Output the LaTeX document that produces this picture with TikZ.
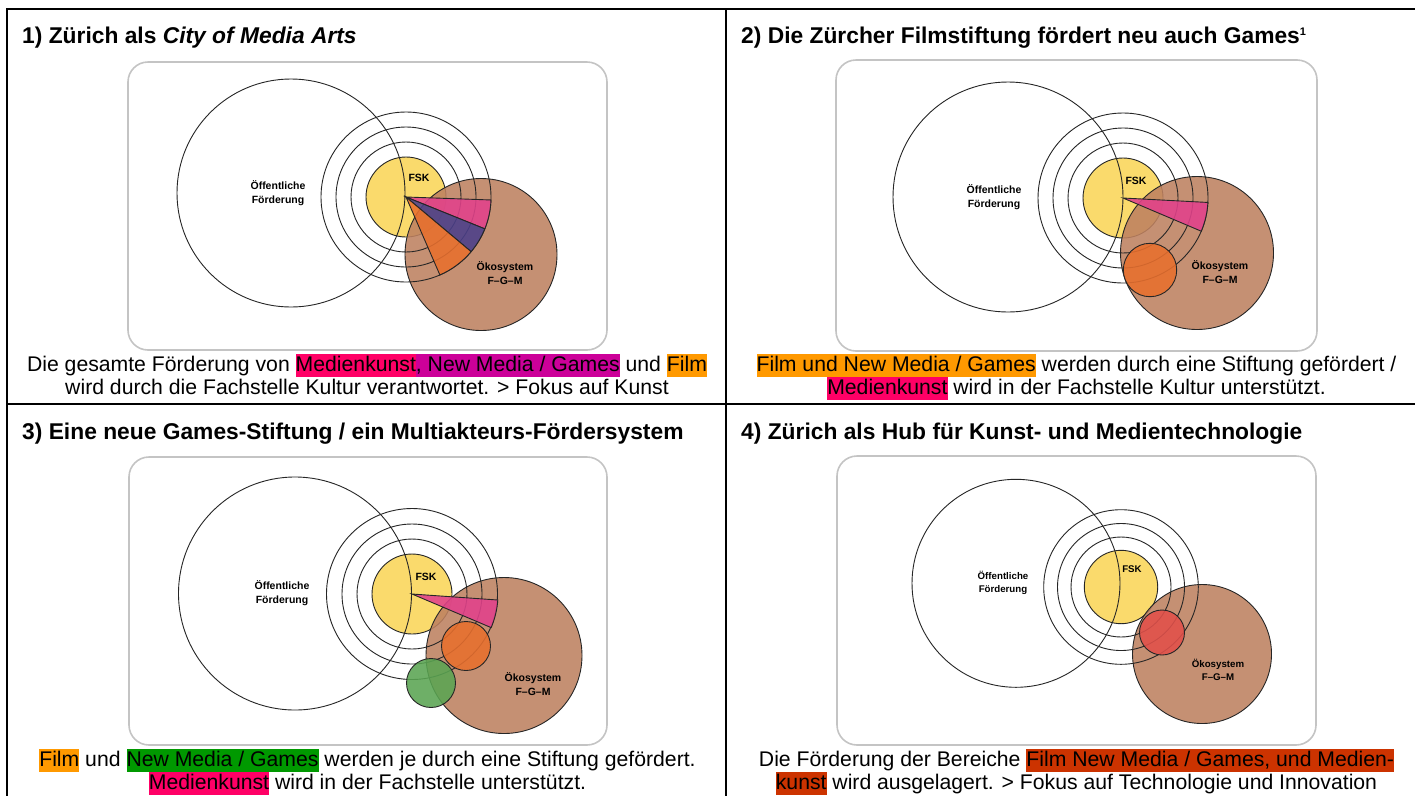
\documentclass[tikz,border=0pt]{standalone}
\usepackage{fontspec}
\setmainfont{Liberation Sans}

% highlight colours of the captions
\definecolor{hlpink}{HTML}{FF0066}
\definecolor{hlmagenta}{HTML}{CC0099}
\definecolor{hlorange}{HTML}{FF9900}
\definecolor{hlgreen}{HTML}{009900}
\definecolor{hlrust}{HTML}{CC3300}
% diagram colours
\definecolor{panelgray}{HTML}{C4C4C4}
\definecolor{fskyellow}{HTML}{FADA6C}
\definecolor{ecobrown}{HTML}{BE8160}
\definecolor{wedgepink}{HTML}{E2418B}
\definecolor{wedgeviolet}{HTML}{4B3F8A}
\definecolor{areaorange}{HTML}{E86F2D}
\definecolor{areagreen}{HTML}{5AA552}
\definecolor{areared}{HTML}{E2504A}

\newcommand\lnstrut{\rule[-5.5pt]{0pt}{23pt}}
\newcommand\hl[2]{{\setlength{\fboxsep}{0pt}\colorbox{#1}{\lnstrut#2}}}
\newcommand\footmark[1]{\raisebox{8pt}{\fontsize{11}{11}\selectfont #1}}

\tikzset{
  frameline/.style={draw=black, line width=2.4pt},
  panelbox/.style={draw=panelgray, line width=1.6pt, rounded corners=20pt},
  outline/.style={draw=black!85, line width=0.9pt},
  fsk/.style={outline, fill=fskyellow},
  eco/.style={outline, fill=ecobrown, fill opacity=0.88},
  piece/.style={outline, fill opacity=0.88},
  lbl/.style={font=\fontsize{10.5}{13.3}\selectfont\bfseries, align=center, inner sep=0pt},
  lblsmall/.style={font=\fontsize{9.7}{12.3}\selectfont\bfseries, align=center, inner sep=0pt},
  heading/.style={anchor=base west, font=\fontsize{22.8}{26}\selectfont\bfseries, inner sep=0pt},
  caption/.style={align=center, inner sep=0pt, font=\fontsize{21.2}{23}\selectfont},
}

\begin{document}
\begin{tikzpicture}[x=1pt, y=-1pt]
\useasboundingbox (0,0) rectangle (1415,796);
\fill[white] (0,0) rectangle (1415,796);

% ---------- table grid ----------
\draw[frameline] (1415,9) -- (7,9) -- (7,796);
\draw[frameline] (726,9) -- (726,796);
\draw[frameline] (7,404) -- (1415,404);

% ---------- headings ----------
\node[heading] (h1) at (22,43) {1) Zürich als \textit{City of Media Arts}};
\node[heading] (h2) at (741,43) {2) Die Zürcher Filmstiftung fördert neu auch Games\footmark{1}};
\node[heading] (h3) at (22,439) {3) Eine neue Games-Stiftung / ein Multiakteurs-Fördersystem};
\node[heading] (h4) at (741,439) {4) Zürich als Hub für Kunst- und Medientechnologie};

% ---------- panel 1 ----------
\draw[panelbox] (128,62) rectangle (607,350);
\path[fsk] (406,197) circle[radius=40];
\path[eco] (481,254.5) circle[radius=76];
\draw[outline] (291,193) circle[radius=114];
\foreach \r in {55,70,85} \draw[outline] (406,197) circle[radius=\r];
\path[piece, fill=wedgepink] (406,197) -- ++(2:85) arc[start angle=2, end angle=22, radius=85] -- cycle;
\path[piece, fill=wedgeviolet] (406,197) -- ++(22:85) arc[start angle=22, end angle=40, radius=85] -- cycle;
\path[piece, fill=areaorange] (406,197) -- ++(40:85) arc[start angle=40, end angle=66.5, radius=85] -- cycle;
\node[lbl] (oef1) at (278,193) {Öffentliche\\Förderung};
\node[lbl] (fsk1) at (419,178) {FSK};
\node[lbl] (eco1) at (505,273) {Ökosystem\\F–G–M};

% ---------- panel 2 ----------
\draw[panelbox] (836,60) rectangle (1317,351);
\path[fsk] (1123,198) circle[radius=40];
\path[eco] (1197,253) circle[radius=76.5];
\draw[outline] (1008,197) circle[radius=115];
\foreach \r in {55,70,85} \draw[outline] (1123,198) circle[radius=\r];
\path[piece, fill=wedgepink] (1123,198) -- ++(3:85) arc[start angle=3, end angle=23, radius=85] -- cycle;
\path[piece, fill=areaorange] (1150,270) circle[radius=26.7];
\node[lbl] (oef2) at (994,197) {Öffentliche\\Förderung};
\node[lbl] (fsk2) at (1136,181) {FSK};
\node[lbl] (eco2) at (1220,272) {Ökosystem\\F–G–M};

% ---------- panel 3 ----------
\draw[panelbox] (129,457) rectangle (607,745);
\path[fsk] (412,594) circle[radius=40];
\path[eco] (504,655.5) circle[radius=78];
\draw[outline] (295,593.5) circle[radius=116.5];
\foreach \r in {55,70,85.5} \draw[outline] (412,594) circle[radius=\r];
\path[piece, fill=wedgepink] (412,594) -- ++(4:86) arc[start angle=4, end angle=23, radius=86] -- cycle;
\path[piece, fill=areaorange] (466,646) circle[radius=24.5];
\path[piece, fill=areagreen] (431,683) circle[radius=24.5];
\node[lbl] (oef3) at (282,593) {Öffentliche\\Förderung};
\node[lbl] (fsk3) at (426,577) {FSK};
\node[lbl] (eco3) at (533,684) {Ökosystem\\F–G–M};

% ---------- panel 4 ----------
\draw[panelbox] (837,456) rectangle (1316,745);
\path[fsk] (1121,587) circle[radius=36.7];
\path[eco] (1202,654) circle[radius=69.5];
\draw[outline] (1016,583.3) circle[radius=104];
\foreach \r in {50,63.5,77.3} \draw[outline] (1121,587) circle[radius=\r];
\path[piece, fill=areared] (1162,632.5) circle[radius=22.5];
\node[lblsmall] (oef4) at (1003,583) {Öffentliche\\Förderung};
\node[lblsmall] (fsk4) at (1132,569) {FSK};
\node[lblsmall] (eco4) at (1218,670) {Ökosystem\\F–G–M};

% ---------- captions ----------
\node[caption] (c1) at (367,377) {\lnstrut Die gesamte Förderung von \hl{hlpink}{Medienkunst}\hl{hlmagenta}{, New Media / Games} und \hl{hlorange}{Film}\\
  \lnstrut wird durch die Fachstelle Kultur verantwortet. > Fokus auf Kunst};
\node[caption] (c2) at (1076.5,377) {\lnstrut\hl{hlorange}{Film und New Media / Games} werden durch eine Stiftung gefördert /\\
  \lnstrut\hl{hlpink}{Medienkunst} wird in der Fachstelle Kultur unterstützt.};
\node[caption] (c3) at (367.5,772) {\lnstrut\hl{hlorange}{Film} und \hl{hlgreen}{New Media / Games} werden je durch eine Stiftung gefördert.\\
  \lnstrut\hl{hlpink}{Medienkunst} wird in der Fachstelle unterstützt.};
\node[caption] (c4) at (1076.5,772) {\lnstrut Die Förderung der Bereiche \hl{hlrust}{Film New Media / Games, und Medien-}\\
  \lnstrut\hl{hlrust}{kunst} wird ausgelagert. > Fokus auf Technologie und Innovation};
\end{tikzpicture}
\end{document}
